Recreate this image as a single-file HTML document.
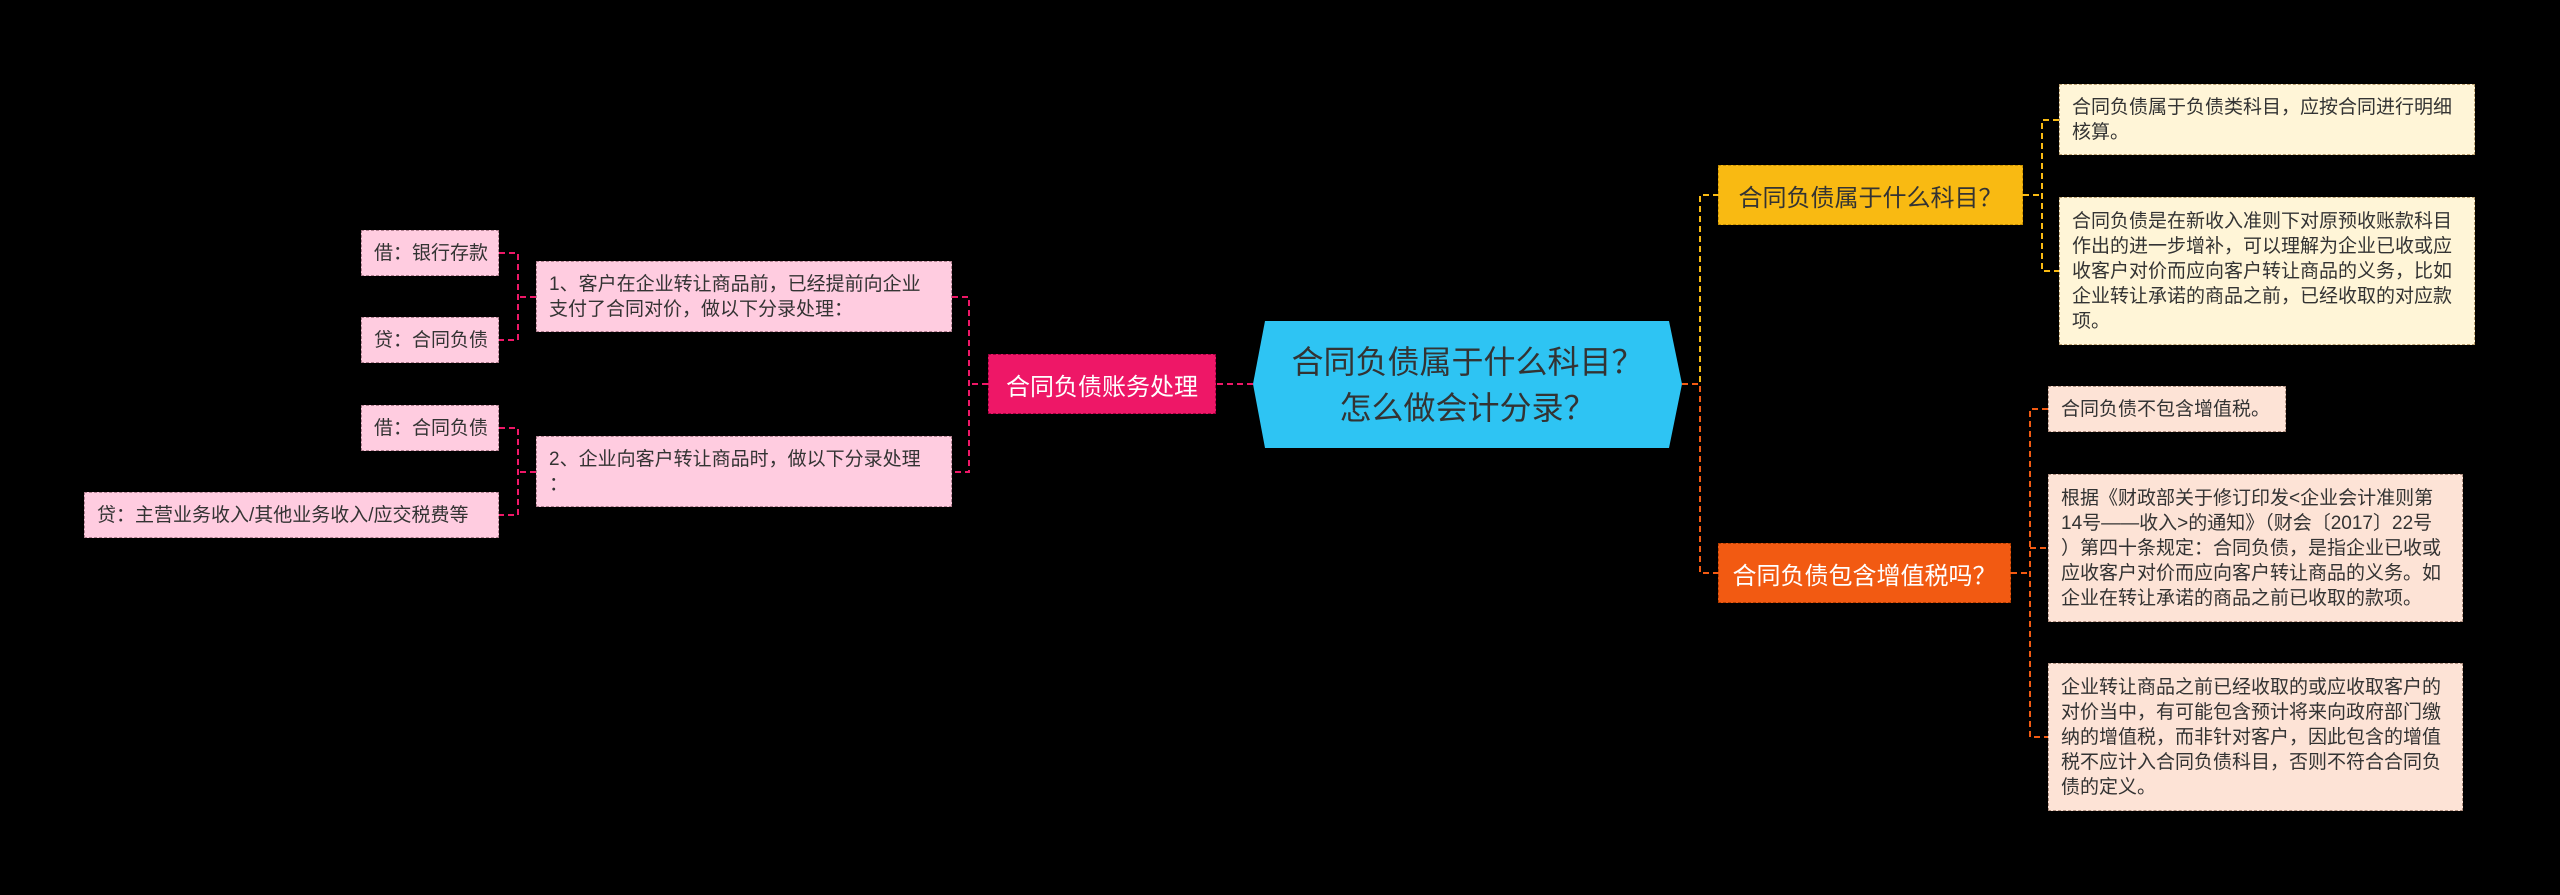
<!DOCTYPE html>
<html><head><meta charset="utf-8"><style>
html,body{margin:0;padding:0;background:#000;width:2560px;height:895px;overflow:hidden}
body{position:relative;font-family:"Liberation Sans","Noto Sans CJK SC",sans-serif}
.b{position:absolute;box-sizing:border-box;display:flex;align-items:center;white-space:nowrap}
.leaf{font-size:19px;line-height:25px;color:#333;padding-left:12px}
.node{font-size:24px;justify-content:center}
svg{position:absolute;left:0;top:0}
</style></head><body>
<svg width="2560" height="895" fill="none" stroke-width="2" stroke-dasharray="6,4">
<!-- yellow -->
<path d="M1682 384 H1700 V195 H1718" stroke="#F9BA12"/>
<path d="M2023 195 H2042 M2059 120 H2042 V271 H2059" stroke="#F9BA12"/>
<!-- orange -->
<path d="M1682 384 H1700 V573 H1718" stroke="#F25A12"/>
<path d="M2011 573 H2030 M2048 409 H2030 V737 H2048 M2030 548 H2048" stroke="#F25A12"/>
<!-- pink -->
<path d="M1253 384 H1216" stroke="#EE1767"/>
<path d="M988 384 H969 M952 297 H969 V472 H952" stroke="#EE1767"/>
<path d="M536 297 H518 M499 253 H518 V340 H499" stroke="#EE1767"/>
<path d="M536 472 H518 M499 428 H518 V515 H499" stroke="#EE1767"/>
</svg>

<!-- center -->
<svg width="2560" height="895" style="pointer-events:none">
<polygon points="1265,321 1669,321 1682,384 1669,448 1265,448 1253,384" fill="#2EC4F3"/>
</svg>
<div class="b" style="left:1253px;top:321px;width:429px;height:127px;justify-content:center;text-align:center;font-size:32px;line-height:46px;color:#333;white-space:normal">合同负债属于什么科目？<br>怎么做会计分录？</div>

<!-- right yellow -->
<div class="b node" style="left:1718px;top:165px;width:305px;height:60px;background:#F9BA12;color:#333;border:1px dashed #c99000">合同负债属于什么科目？</div>
<div class="b leaf" style="left:2059px;top:84px;width:416px;height:71px;background:#FFF5D7;border:1px dashed #bba070">合同负债属于负债类科目，应按合同进行明细<br>核算。</div>
<div class="b leaf" style="left:2059px;top:197px;width:416px;height:148px;background:#FFF5D7;border:1px dashed #bba070">合同负债是在新收入准则下对原预收账款科目<br>作出的进一步增补，可以理解为企业已收或应<br>收客户对价而应向客户转让商品的义务，比如<br>企业转让承诺的商品之前，已经收取的对应款<br>项。</div>

<!-- right orange -->
<div class="b node" style="left:1718px;top:543px;width:293px;height:60px;background:#F25A12;color:#fff;border:1px dashed #b03c00">合同负债包含增值税吗？</div>
<div class="b leaf" style="left:2048px;top:386px;width:238px;height:46px;background:#FDE3D6;border:1px dashed #b09080">合同负债不包含增值税。</div>
<div class="b leaf" style="left:2048px;top:474px;width:415px;height:148px;background:#FDE3D6;border:1px dashed #b09080">根据《财政部关于修订印发&lt;企业会计准则第<br>14号——收入&gt;的通知》（财会〔2017〕22号<br>）第四十条规定：合同负债，是指企业已收或<br>应收客户对价而应向客户转让商品的义务。如<br>企业在转让承诺的商品之前已收取的款项。</div>
<div class="b leaf" style="left:2048px;top:663px;width:415px;height:148px;background:#FDE3D6;border:1px dashed #b09080">企业转让商品之前已经收取的或应收取客户的<br>对价当中，有可能包含预计将来向政府部门缴<br>纳的增值税，而非针对客户，因此包含的增值<br>税不应计入合同负债科目，否则不符合合同负<br>债的定义。</div>

<!-- left pink -->
<div class="b node" style="left:988px;top:354px;width:228px;height:60px;background:#EE1767;color:#fff;border:1px dashed #a00040">合同负债账务处理</div>
<div class="b leaf" style="left:536px;top:261px;width:416px;height:71px;background:#FFCCE0;border:1px dashed #b08090">1、客户在企业转让商品前，已经提前向企业<br>支付了合同对价，做以下分录处理：</div>
<div class="b leaf" style="left:536px;top:436px;width:416px;height:71px;background:#FFCCE0;border:1px dashed #b08090">2、企业向客户转让商品时，做以下分录处理<br>：</div>
<div class="b leaf" style="left:361px;top:230px;width:138px;height:46px;background:#FFCCE0;border:1px dashed #b08090">借：银行存款</div>
<div class="b leaf" style="left:361px;top:317px;width:138px;height:46px;background:#FFCCE0;border:1px dashed #b08090">贷：合同负债</div>
<div class="b leaf" style="left:361px;top:405px;width:138px;height:46px;background:#FFCCE0;border:1px dashed #b08090">借：合同负债</div>
<div class="b leaf" style="left:84px;top:492px;width:415px;height:46px;background:#FFCCE0;border:1px dashed #b08090">贷：主营业务收入/其他业务收入/应交税费等</div>
</body></html>
